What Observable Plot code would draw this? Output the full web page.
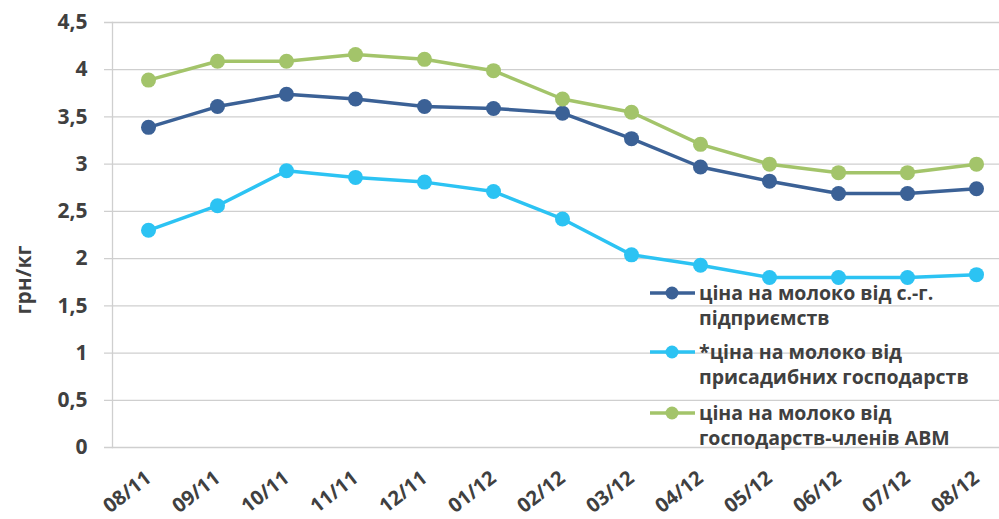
<!DOCTYPE html>
<html><head><meta charset="utf-8">
<script src="https://cdn.jsdelivr.net/npm/d3@7"></script>
<script src="https://cdn.jsdelivr.net/npm/@observablehq/plot@0.6"></script>
<style>
body{margin:0;background:#fff;}
#chart{width:999px;height:519px;overflow:hidden;position:relative}
</style>
</head><body><div id="chart"></div>
<script>
const months = ["08/11","09/11","10/11","11/11","12/11","01/12","02/12","03/12","04/12","05/12","06/12","07/12","08/12"];
const seriesNames = ["ціна на молоко від с.-г. підприємств","*ціна на молоко від присадибних господарств","ціна на молоко від господарств-членів АВМ"];
const legendLines = [["ціна на молоко від с.-г.","підприємств"],["*ціна на молоко від","присадибних господарств"],["ціна на молоко від","господарств-членів АВМ"]];
const enterprises = [3.39,3.61,3.74,3.69,3.61,3.59,3.54,3.27,2.97,2.82,2.69,2.69,2.74];
const households  = [2.30,2.56,2.93,2.86,2.81,2.71,2.42,2.04,1.93,1.80,1.80,1.80,1.83];
const avm         = [3.89,4.09,4.09,4.16,4.11,3.99,3.69,3.55,3.21,3.00,2.91,2.91,3.00];
const colors = ["#3B6196","#2CC3F3","#A3C46A"];
const yTicks = [0,0.5,1,1.5,2,2.5,3,3.5,4,4.5];

const seriesValues = [enterprises, households, avm];
const data = seriesValues.flatMap((vals, i) => vals.map((v, j) => ({month: months[j], value: v, series: seriesNames[i]})));

const chart = Plot.plot({
  width: 999, height: 519,
  marginTop: 22, marginBottom: 72, marginLeft: 112, marginRight: 0,
  style: {fontFamily: "'Open Sans', sans-serif", fontWeight: "bold", fontSize: "18px", color: "#404040", background: "#fff", overflow: "visible"},
  x: {type: "point", domain: months, range: [147, 976], padding: 0},
  y: {domain: [0, 4.5]},
  color: {domain: seriesNames, range: colors},
  marks: [
    Plot.ruleY(yTicks, {stroke: "#cfcfcf", strokeWidth: 1.3, insetLeft: -8}),
    Plot.frame({anchor: "left", stroke: "#cfcfcf", strokeWidth: 1.3}),
    Plot.axisY({ticks: yTicks, tickFormat: d => String(d).replace(".", ","), tickSize: 0, tickPadding: 25, label: null, fontSize: 21, fill: "#404040"}),
    Plot.axisX({tickSize: 0, tickRotate: -38, label: null, fontSize: 20, fill: "#404040", tickPadding: 28}),
    Plot.line(data, {x: "month", y: "value", z: "series", stroke: "series", strokeWidth: 3.5}),
    Plot.dot(data, {x: "month", y: "value", fill: "series", r: 7.5})
  ]
});
document.getElementById("chart").appendChild(chart);

const svg = d3.select(chart);
// Y axis title
svg.append("text")
  .attr("transform", "translate(24,280) rotate(-90)")
  .attr("text-anchor", "middle").attr("dy", "0.35em")
  .attr("font-size", 21).attr("font-weight", "bold").attr("fill", "#404040")
  .text("грн/кг");

// Legend
const lg = svg.append("g").attr("font-size", 19.5).attr("font-weight", "bold").attr("fill", "#404040").attr("text-anchor", "start");
const rowTops = [293, 352, 413];
legendLines.forEach((lines, i) => {
  const y0 = rowTops[i];
  lg.append("line").attr("x1", 650).attr("x2", 695).attr("y1", y0).attr("y2", y0)
    .attr("stroke", colors[i]).attr("stroke-width", 3.5);
  lg.append("circle").attr("cx", 672).attr("cy", y0).attr("r", 6.5).attr("fill", colors[i]);
  lines.forEach((t, k) => {
    lg.append("text").attr("x", 699).attr("y", y0 + k * 25).attr("dy", "0.35em").text(t);
  });
});
</script>
</body></html>
